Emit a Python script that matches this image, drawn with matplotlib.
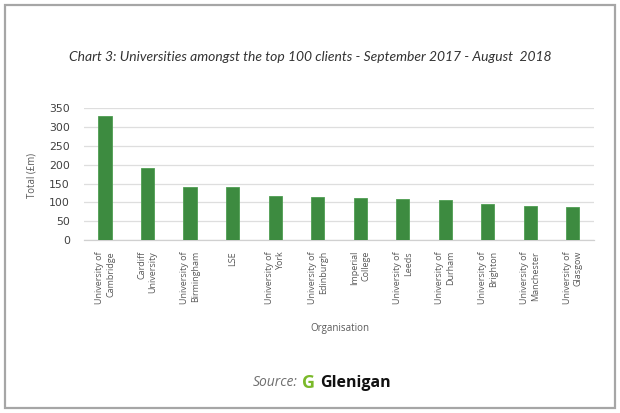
import matplotlib
matplotlib.use("Agg")
import matplotlib.pyplot as plt
from matplotlib.patches import Rectangle

categories = ["University of\nCambridge", "Cardiff\nUniversity", "University of\nBirmingham", "LSE",
              "University of\nYork", "University of\nEdinburgh", "Imperial\nCollege", "University of\nLeeds",
              "University of\nDurham", "University of\nBrighton", "University of\nManchester", "University of\nGlasgow"]
values = [330, 192, 142, 141, 117, 113, 112, 108, 105, 97, 90, 88]
yticks = [0, 50, 100, 150, 200, 250, 300, 350]

W, H = 620, 413
fig = plt.figure(figsize=(6.2, 4.13), dpi=100)
fig.patch.set_facecolor("white")

# outer frame
fig.add_artist(Rectangle((4.5 / W, 1 - 408 / H), (615 - 4.5) / W, (408 - 4.5) / H,
                         transform=fig.transFigure, fill=False, edgecolor="#a6a6a6", linewidth=1.6))

left, right = 83.75 / W, 594 / W
bottom, top = 1 - 240 / H, 1 - 108.3 / H
ax = fig.add_axes([left, bottom, right - left, top - bottom])

x = list(range(len(values)))
ax.bar(x, values, width=0.31, color="#3d8b40", edgecolor="#4f9e52", linewidth=0.6, zorder=3)
ax.set_xlim(-0.5, len(values) - 0.5)
ax.set_ylim(0, 350)
ax.set_yticks(yticks)
ax.set_yticklabels([str(v) for v in yticks], fontsize=7.8, color="#404040", family="DejaVu Sans")
ax.grid(axis="y", color="#dedede", linewidth=0.9, zorder=0)
for s in ["top", "right", "left"]:
    ax.spines[s].set_visible(False)
ax.spines["bottom"].set_color("#d0d0d0")
ax.spines["bottom"].set_linewidth(0.9)
ax.tick_params(axis="y", length=0, pad=10)
ax.tick_params(axis="x", length=0, pad=8)
ax.set_xticks(x)
ax.set_xticklabels(categories, rotation=90, fontsize=6.5, color="#595959", family="Open Sans",
                   ha="center", va="top", multialignment="right", linespacing=1.3)

fig.text(32 / W, 1 - 175 / H, "Total (£m)", rotation=90, ha="center", va="center",
         fontsize=6.9, color="#595959", family="Open Sans")
fig.text(340 / W, 1 - 328 / H, "Organisation", ha="center", va="center",
         fontsize=7.0, color="#595959", family="Open Sans")

fig.text(310 / W, 1 - 57 / H,
         "Chart 3: Universities amongst the top 100 clients - September 2017 - August  2018",
         ha="center", va="center", fontsize=10.0, style="italic", color="#333333", family="Lato")

fig.text(298 / W, 1 - 383 / H, "Source:", ha="right", va="center", fontsize=10,
         style="italic", color="#6f6f6f", family="Open Sans")
fig.text(302 / W, 1 - 383 / H, "G", ha="left", va="center", fontsize=13,
         weight="bold", color="#7ab929", family="Open Sans")
fig.text(320 / W, 1 - 383 / H, "Glenigan", ha="left", va="center", fontsize=11.5,
         weight="bold", color="#111111", family="Open Sans")

fig.savefig("out.png", dpi=100)
